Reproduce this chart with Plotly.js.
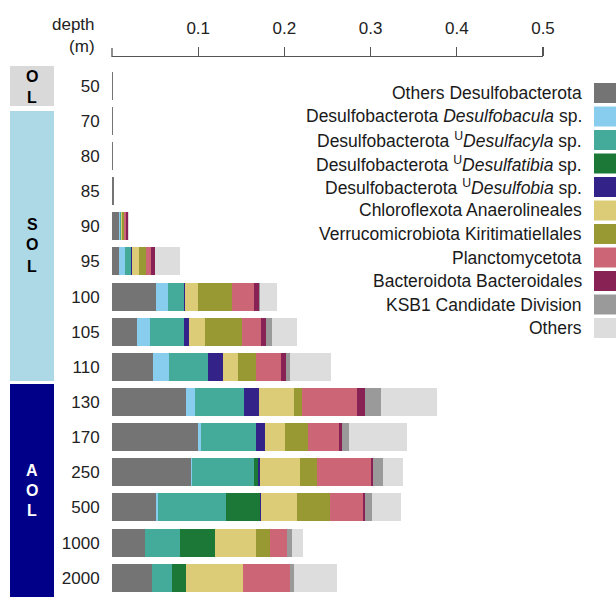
<!DOCTYPE html>
<html>
<head>
<meta charset="utf-8">
<script src="https://cdn.plot.ly/plotly-3.0.1.min.js"></script>
<style>html,body{margin:0;padding:0;background:#fff;}#chart{width:616px;height:597px;}</style>
</head>
<body>
<div id="chart"></div>
<script>
// ---- data (relative abundance) ----
const depths = ['50','70','80','85','90','95','100','105','110','130','170','250','500','1000','2000'];
const othersDesulfobacterota = [0.0012,0.0012,0.0012,0.0018,0.0077,0.0077,0.0514,0.0294,0.0476,0.0855,0.0994,0.0920,0.0514,0.0387,0.0468];
const desulfobacula      = [0,0,0,0,0.0015,0.0073,0.0131,0.0143,0.0182,0.0104,0.0043,0.0012,0.0019,0,0];
const desulfacyla        = [0,0,0,0,0.0012,0.0070,0.0186,0.0394,0.0452,0.0572,0.0634,0.0715,0.0785,0.0398,0.0228];
const desulfatibia       = [0,0,0,0,0,0,0,0,0,0,0,0.0046,0.0402,0.0406,0.0162];
const desulfobia         = [0,0,0,0,0,0.0012,0.0019,0.0058,0.0178,0.0170,0.0108,0.0019,0.0008,0,0];
const anaerolineales     = [0,0,0,0,0.0015,0.0085,0.0151,0.0189,0.0170,0.0406,0.0228,0.0468,0.0421,0.0480,0.0665];
const kiritimatiellales  = [0,0,0,0,0.0023,0.0073,0.0394,0.0425,0.0217,0.0097,0.0267,0.0201,0.0383,0.0162,0];
const planctomycetota    = [0,0,0,0,0.0015,0.0066,0.0247,0.0220,0.0282,0.0642,0.0356,0.0626,0.0383,0.0197,0.0538];
const bacteroidales      = [0,0,0,0,0.0023,0.0046,0.0058,0.0062,0.0066,0.0089,0.0039,0.0019,0.0015,0,0];
const ksb1               = [0,0,0,0,0,0,0.0015,0.0066,0.0039,0.0182,0.0081,0.0112,0.0089,0.0062,0.0046];
const others             = [0,0,0,0,0.0012,0.0290,0.0201,0.0290,0.0476,0.0657,0.0669,0.0236,0.0336,0.0120,0.0499];

const seriesNames = [
  'Others Desulfobacterota',
  'Desulfobacterota <i>Desulfobacula</i> sp.',
  'Desulfobacterota <sup>U</sup><i>Desulfacyla</i> sp.',
  'Desulfobacterota <sup>U</sup><i>Desulfatibia</i> sp.',
  'Desulfobacterota <sup>U</sup><i>Desulfobia</i> sp.',
  'Chloroflexota Anaerolineales',
  'Verrucomicrobiota Kiritimatiellales',
  'Planctomycetota',
  'Bacteroidota Bacteroidales',
  'KSB1 Candidate Division',
  'Others'
];
const seriesValues = [othersDesulfobacterota, desulfobacula, desulfacyla, desulfatibia, desulfobia,
  anaerolineales, kiritimatiellales, planctomycetota, bacteroidales, ksb1, others];
const seriesColors = ['#747474','#88CCEE','#44AA99','#1B7837','#332288','#DDCC77','#999933','#CC6677','#882255','#9A9A9A','#DDDDDD'];

const xTickVals = [0.1, 0.2, 0.3, 0.4, 0.5];
const xTickText = ['0.1', '0.2', '0.3', '0.4', '0.5'];

// zone boxes
const zones = [
  {letters: ['O','L'], top: 66, bottom: 106, fill: '#D9D9D9', color: '#000', ys: [76, 97]},
  {letters: ['S','O','L'], top: 111, bottom: 381, fill: '#ADD8E6', color: '#000', ys: [224, 245, 266]},
  {letters: ['A','O','L'], top: 384, bottom: 600, fill: '#000088', color: '#fff', ys: [470, 490, 510]}
];

// ---- layout geometry ----
const W = 616, H = 597, L = 112, R = 73, T = 57, B = 0;
const PW = W - L - R, PH = H - T - B;
const px2x = p => (p - L) / PW;
const py2y = p => 1 - (p - T) / PH;

const traces = seriesNames.map((n, i) => ({
  type: 'bar', orientation: 'h', name: n,
  y: depths, x: seriesValues[i],
  marker: {color: seriesColors[i], line: {width: 0}},
  hoverinfo: 'skip'
}));

const shapes = [];
const annotations = [];

// tick at the axis origin (no label)
shapes.push({
  type: 'line', xref: 'paper', yref: 'paper', layer: 'above',
  x0: 0, x1: 0, y0: 1, y1: py2y(T - 9),
  line: {color: '#555', width: 1.3}
});

// manual legend (text right-aligned, swatch on the right)
seriesNames.forEach((n, i) => {
  const cy = 93 + 23.5 * i;
  annotations.push({
    xref: 'paper', yref: 'paper', x: px2x(584), y: py2y(cy),
    xanchor: 'right', yanchor: 'middle', showarrow: false, text: n,
    font: {family: 'Liberation Sans, Arial, sans-serif', size: 17.5, color: '#1a1a1a'}
  });
  shapes.push({
    type: 'rect', xref: 'paper', yref: 'paper', layer: 'above',
    x0: px2x(594), x1: px2x(620), y0: py2y(cy - 10), y1: py2y(cy + 10),
    fillcolor: seriesColors[i], line: {width: 0}
  });
});

// zone boxes
zones.forEach(z => {
  shapes.push({
    type: 'rect', xref: 'paper', yref: 'paper',
    x0: px2x(10), x1: px2x(54), y0: py2y(z.bottom), y1: py2y(z.top),
    fillcolor: z.fill, line: {width: 0}
  });
  z.letters.forEach((ch, k) => {
    annotations.push({
      xref: 'paper', yref: 'paper', x: px2x(32), y: py2y(z.ys[k]),
      xanchor: 'center', yanchor: 'middle', showarrow: false, text: '<b>' + ch + '</b>',
      font: {family: 'Liberation Sans, Arial, sans-serif', size: 16, color: z.color}
    });
  });
});

// depth (m) label
annotations.push({
  xref: 'paper', yref: 'paper', x: px2x(97), y: py2y(36),
  xanchor: 'right', yanchor: 'middle', align: 'right', showarrow: false,
  text: 'depth<br>(m)',
  font: {family: 'Liberation Sans, Arial, sans-serif', size: 17, color: '#222'}
});

const layout = {
  width: W, height: H,
  margin: {l: L, r: R, t: T, b: B, pad: 0},
  paper_bgcolor: '#fff', plot_bgcolor: '#fff',
  barmode: 'stack', bargap: 0.2, showlegend: false,
  font: {family: 'Liberation Sans, Arial, sans-serif', size: 17, color: '#222'},
  xaxis: {
    side: 'top', range: [0, 0.5], autorange: false,
    tickvals: xTickVals, ticktext: xTickText,
    showline: true, linecolor: '#555', linewidth: 1.3,
    ticks: 'outside', ticklen: 9, tickwidth: 1.3, tickcolor: '#555',
    ticklabelstandoff: 6,
    showgrid: false, zeroline: false,
    tickfont: {family: 'Liberation Sans, Arial, sans-serif', size: 17, color: '#222'}
  },
  yaxis: {
    type: 'category', range: [14.549, -0.817], autorange: false,
    showline: false, showgrid: false, zeroline: false,
    ticks: 'outside', ticklen: 8, tickcolor: 'rgba(0,0,0,0)',
    tickfont: {family: 'Liberation Sans, Arial, sans-serif', size: 17, color: '#222'}
  },
  shapes: shapes,
  annotations: annotations
};

Plotly.newPlot('chart', traces, layout, {staticPlot: true, displayModeBar: false});
</script>
</body>
</html>
